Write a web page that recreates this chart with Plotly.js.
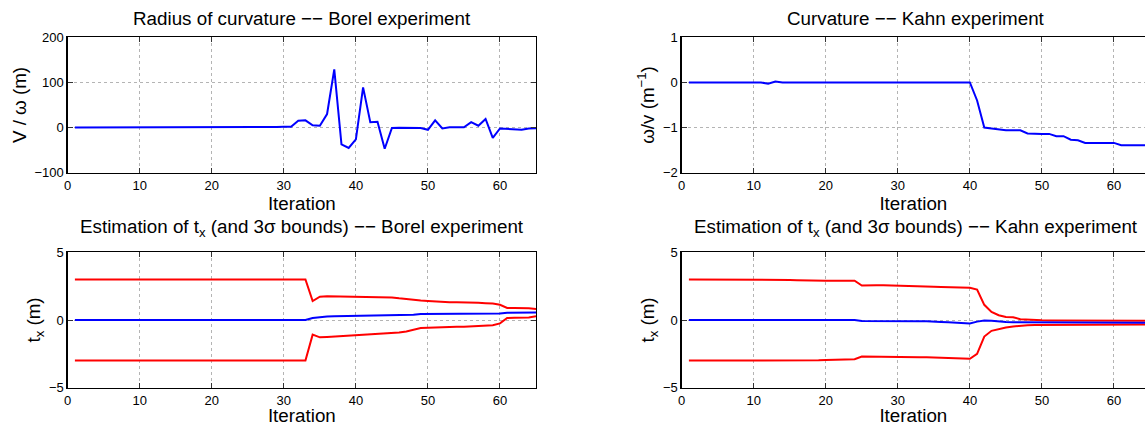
<!DOCTYPE html>
<html>
<head>
<meta charset="utf-8">
<script src="https://cdn.plot.ly/plotly-3.0.1.min.js"></script>
<style>html,body{margin:0;padding:0;background:#fff;overflow:hidden}</style>
</head>
<body>
<div id="chart" style="width:1145px;height:426px"></div>
<script>
// ---------- DATA ----------
const iteration = [1,2,3,4,5,6,7,8,9,10,11,12,13,14,15,16,17,18,19,20,21,22,23,24,25,26,27,28,29,30,31,32,33,34,35,36,37,38,39,40,41,42,43,44,45,46,47,48,49,50,51,52,53,54,55,56,57,58,59,60,61,62,63,64,65];

// Radius of curvature (V / omega, m) -- Borel
const borelRadius = [0.2,0.2,0.2,0.2,0.2,0.2,0.2,0.2,0.2,0.2,0.2,0.2,0.2,0.2,0.2,0.2,
  1.0,1.0,1.0,1.0,1.0,0.5,0.5,0.5,0.5,0.5,0.5,1.5,1.5,2,2,
  15,16,5,4,30,129,-37,-45,-26,89,12,13,-47,-1,-0.5,-0.5,-0.5,-1,-5,16,-2,0.5,0.5,0.5,12,4,19,-23,-2,-3,-4,-5,-2,-1.5];

// Curvature (omega / v, 1/m) -- Kahn
const kahnCurv = [0,0,0,0,0,0,0,0,0,0,0,-0.03,0.02,0,0,0,0,0,0,0,0,0,0,0,0,0,0,0,0,0,0,0,0,0,0,0,0,0,0,0,
  -0.40,-1.00,-1.02,-1.04,-1.06,-1.06,-1.06,-1.13,-1.14,-1.14,-1.14,-1.19,-1.19,-1.27,-1.28,-1.34,-1.34,-1.34,-1.34,-1.34,-1.39,-1.39,-1.39,-1.39,-1.39];

// Estimation of t_x and 3-sigma bounds -- Borel
const borelTx = [0,0,0,0,0,0,0,0,0,0,0,0,0,0,0,0,0,0,0,0,0,0,0,0,0,0,0,0,0,0,0,0,0,
  0.15,0.22,0.25,0.27,0.28,0.30,0.30,0.31,0.32,0.33,0.34,0.35,0.36,0.37,0.38,0.45,
  0.45,0.45,0.45,0.45,0.45,0.45,0.45,0.45,0.45,0.45,0.48,0.54,0.55,0.55,0.55,0.55];
const borelUpper = [3,3,3,3,3,3,3,3,3,3,3,3,3,3,3,3,3,3,3,3,3,3,3,3,3,3,3,3,3,3,3,3,3,
  1.40,1.72,1.75,1.74,1.73,1.72,1.71,1.70,1.70,1.69,1.68,1.67,1.60,1.53,1.47,1.44,1.41,1.37,1.33,1.32,1.32,1.32,1.31,1.27,1.24,1.21,1.12,0.89,0.88,0.88,0.86,0.81];
const borelLower = [-3,-3,-3,-3,-3,-3,-3,-3,-3,-3,-3,-3,-3,-3,-3,-3,-3,-3,-3,-3,-3,-3,-3,-3,-3,-3,-3,-3,-3,-3,-3,-3,-3,
  -1.08,-1.28,-1.25,-1.22,-1.19,-1.16,-1.13,-1.10,-1.07,-1.05,-1.03,-1.00,-0.93,-0.85,-0.74,-0.60,-0.58,-0.55,-0.52,-0.50,-0.50,-0.49,-0.47,-0.44,-0.41,-0.38,-0.25,0.15,0.16,0.17,0.18,0.27];

// Estimation of t_x and 3-sigma bounds -- Kahn
const kahnTx = [0,0,0,0,0,0,0,0,0,0,0,0,0,0,0,0,0,0,0,0,0,0,0,0,
  -0.07,-0.08,-0.08,-0.08,-0.08,-0.08,-0.10,-0.10,-0.10,-0.10,-0.10,-0.14,-0.17,-0.20,-0.22,-0.25,-0.12,-0.03,-0.05,-0.12,-0.15,
  -0.17,-0.17,-0.18,-0.18,-0.18,-0.18,-0.19,-0.19,-0.19,-0.19,-0.19,-0.20,-0.20,-0.20,-0.20,-0.20,-0.20,-0.20,-0.20,-0.20];
const kahnUpper = [3,3,3,3,3,3,3,3,3,3,3,3,3,2.98,2.96,2.94,2.92,2.90,2.90,2.90,2.90,2.90,2.90,2.90,
  2.55,2.58,2.57,2.56,2.55,2.55,2.53,2.51,2.49,2.47,2.45,2.43,2.42,2.41,2.40,2.38,2.25,1.12,0.60,0.35,0.22,0.20,0.06,0.02,0.00,-0.02,
  -0.03,-0.03,-0.03,-0.03,-0.03,-0.04,-0.04,-0.04,-0.04,-0.04,-0.05,-0.05,-0.05,-0.05,-0.05];
const kahnLower = [-3,-3,-3,-3,-3,-3,-3,-3,-3,-3,-3,-3,-3,-3,-3.02,-3.02,-3.00,-2.98,-2.97,-2.95,-2.94,-2.93,-2.92,-2.90,
  -2.70,-2.70,-2.70,-2.71,-2.71,-2.72,-2.73,-2.74,-2.75,-2.76,-2.78,-2.80,-2.81,-2.83,-2.84,-2.86,-2.50,-1.22,-0.80,-0.65,-0.55,-0.48,-0.42,-0.38,
  -0.37,-0.37,-0.36,-0.36,-0.36,-0.35,-0.35,-0.35,-0.35,-0.34,-0.34,-0.34,-0.34,-0.33,-0.33,-0.33,-0.33];

const xTicks = [0,10,20,30,40,50,60];
const titles = [
  'Radius of curvature \u2212\u2212 Borel experiment',
  'Curvature \u2212\u2212 Kahn experiment',
  'Estimation of t<sub>x</sub> (and 3\u03c3 bounds) \u2212\u2212 Borel experiment',
  'Estimation of t<sub>x</sub> (and 3\u03c3 bounds) \u2212\u2212 Kahn experiment'
];
const yTitles = ['V / \u03c9 (m)', '\u03c9/v (m<sup>\u22121</sup>)', 't<sub>x</sub> (m)', 't<sub>x</sub> (m)'];

// ---------- LAYOUT ----------
const W = 1145, H = 426;
const FONT = 'Liberation Sans, Arial, Helvetica, sans-serif';
const BIG = 18.8;
const BLUE = '#0000ff', RED = '#ff0000';

const leftX = [67.7 / W, 536 / W];
const rightX = [681.7 / W, 1];
const topY = [1 - 172.7 / H, 1 - 37.3 / H];
const botY = [1 - 387.7 / H, 1 - 252.3 / H];
const rightXMax = (W - 681.7) / ((536 - 67.7) / 65);

function xa(domain, anchor, xmax, mirror) {
  return {
    domain: domain, anchor: anchor, range: [0, xmax],
    tickvals: xTicks, ticks: 'inside', ticklen: 5, tickcolor: '#333',
    showline: true, linecolor: '#000', linewidth: 1.3, mirror: mirror,
    showgrid: true, gridcolor: '#b4b4b4', griddash: 'dot', gridwidth: 1,
    zeroline: false, tickfont: {family: FONT, size: 13, color: '#000'},
    title: {text: 'Iteration', font: {family: FONT, size: BIG, color: '#000'}, standoff: 2}
  };
}
function ya(domain, anchor, range, ticks, title, mirror) {
  return {
    domain: domain, anchor: anchor, range: range, tickvals: ticks,
    ticks: 'inside', ticklen: 5, tickcolor: '#333',
    showline: true, linecolor: '#000', linewidth: 1.3, mirror: mirror,
    showgrid: true, gridcolor: '#b4b4b4', griddash: 'dot', gridwidth: 1,
    zeroline: false, tickfont: {family: FONT, size: 13, color: '#000'},
    title: {text: title, font: {family: FONT, size: BIG, color: '#000'}, standoff: 3}
  };
}

const line = (x, y, c, xaxis, yaxis) => ({
  x: x, y: y, type: 'scatter', mode: 'lines', xaxis: xaxis, yaxis: yaxis,
  line: {color: c, width: 2}, hoverinfo: 'skip'
});

const traces = [
  line(iteration, borelRadius, BLUE, 'x', 'y'),
  line(iteration, kahnCurv, BLUE, 'x2', 'y2'),
  line(iteration, borelUpper, RED, 'x3', 'y3'),
  line(iteration, borelLower, RED, 'x3', 'y3'),
  line(iteration, borelTx, BLUE, 'x3', 'y3'),
  line(iteration, kahnUpper, RED, 'x4', 'y4'),
  line(iteration, kahnLower, RED, 'x4', 'y4'),
  line(iteration, kahnTx, BLUE, 'x4', 'y4')
];

const titleAnn = (text, xc, yPix) => ({
  text: text, xref: 'paper', yref: 'paper', x: xc, y: 1 - yPix / H,
  xanchor: 'center', yanchor: 'middle', showarrow: false,
  font: {family: FONT, size: BIG, color: '#000'}
});
const leftC = (67.7 + 536) / 2 / W;
const rightC = (681.7 + 1150) / 2 / W;

const layout = {
  width: W, height: H, margin: {l: 0, r: 0, t: 0, b: 0},
  paper_bgcolor: '#fff', plot_bgcolor: '#fff', showlegend: false,
  xaxis: xa(leftX, 'y', 65, 'ticks'),
  yaxis: ya(topY, 'x', [-100, 200], [-100, 0, 100, 200], yTitles[0], 'ticks'),
  xaxis2: xa(rightX, 'y2', rightXMax, 'ticks'),
  yaxis2: ya(topY, 'x2', [-2, 1], [-2, -1, 0, 1], yTitles[1], false),
  xaxis3: xa(leftX, 'y3', 65, 'ticks'),
  yaxis3: ya(botY, 'x3', [-5, 5], [-5, 0, 5], yTitles[2], 'ticks'),
  xaxis4: xa(rightX, 'y4', rightXMax, 'ticks'),
  yaxis4: ya(botY, 'x4', [-5, 5], [-5, 0, 5], yTitles[3], false),
  annotations: [
    titleAnn(titles[0], leftC, 19),
    titleAnn(titles[1], rightC, 19),
    titleAnn(titles[2], leftC, 228),
    titleAnn(titles[3], rightC, 228)
  ]
};

Plotly.newPlot('chart', traces, layout, {staticPlot: true, displayModeBar: false});
</script>
</body>
</html>
